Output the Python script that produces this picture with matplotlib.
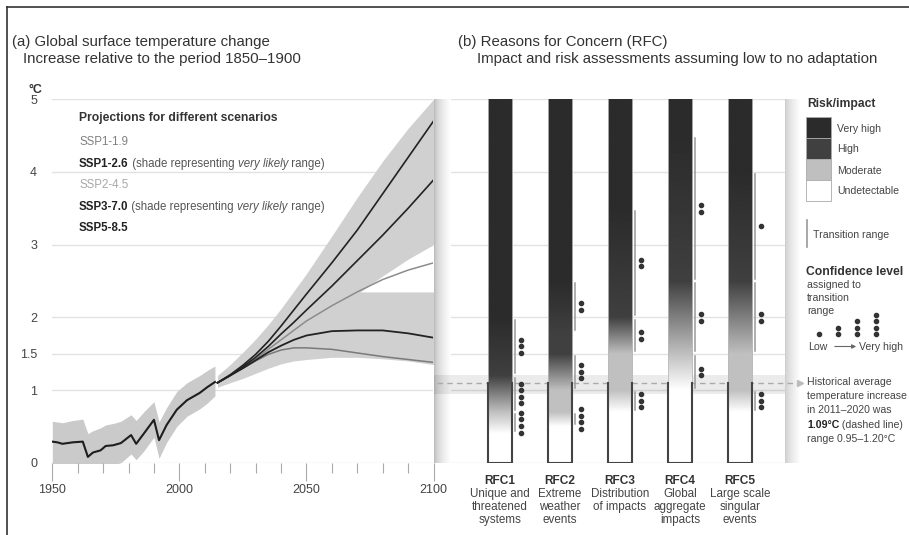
import numpy as np
import matplotlib
matplotlib.use("Agg")
import matplotlib.pyplot as plt
from matplotlib.patches import Rectangle
from matplotlib.transforms import blended_transform_factory

plt.rcParams['font.family'] = ['Liberation Sans Narrow', 'Liberation Sans', 'DejaVu Sans']

# ---- (a) observed warming, 1950-2014 (degC above 1850-1900)
hist_years = [1950, 1952, 1954, 1958, 1962, 1964, 1966, 1969, 1971, 1974, 1977,
              1981, 1983, 1986, 1990, 1992, 1995, 1999, 2003, 2008, 2011, 2014]
hist_temp = [0.29, 0.28, 0.26, 0.28, 0.29, 0.08, 0.14, 0.17, 0.23, 0.24, 0.27,
             0.38, 0.26, 0.40, 0.59, 0.31, 0.52, 0.73, 0.86, 0.96, 1.04, 1.11]
hist_high = [0.57, 0.56, 0.55, 0.58, 0.60, 0.40, 0.44, 0.48, 0.52, 0.54, 0.57,
             0.66, 0.58, 0.70, 0.84, 0.56, 0.76, 0.98, 1.10, 1.20, 1.27, 1.33]
hist_low = [-0.05, -0.05, -0.05, -0.05, -0.05, -0.1, -0.1, -0.08, -0.05, -0.03, 0.0,
            0.12, 0.04, 0.16, 0.35, 0.06, 0.28, 0.50, 0.64, 0.74, 0.82, 0.92]

# ---- (a) scenario projections
proj_years = [2015, 2020, 2025, 2030, 2035, 2040, 2045, 2050, 2060, 2070, 2080, 2090, 2100]
ssp119 = [1.10, 1.20, 1.30, 1.40, 1.49, 1.55, 1.58, 1.58, 1.56, 1.51, 1.46, 1.42, 1.38]
ssp126 = [1.10, 1.20, 1.30, 1.41, 1.52, 1.61, 1.69, 1.75, 1.81, 1.82, 1.82, 1.78, 1.72]
ssp245 = [1.10, 1.20, 1.31, 1.43, 1.56, 1.69, 1.82, 1.95, 2.16, 2.35, 2.52, 2.65, 2.75]
ssp370 = [1.10, 1.20, 1.32, 1.45, 1.60, 1.77, 1.93, 2.10, 2.43, 2.78, 3.13, 3.50, 3.89]
ssp585 = [1.10, 1.21, 1.34, 1.49, 1.67, 1.88, 2.10, 2.32, 2.75, 3.20, 3.70, 4.20, 4.70]
ssp126_low = [1.04, 1.10, 1.16, 1.23, 1.30, 1.36, 1.40, 1.42, 1.45, 1.45, 1.43, 1.40, 1.35]
ssp126_high = [1.18, 1.33, 1.50, 1.68, 1.87, 2.05, 2.20, 2.30, 2.35, 2.35, 2.35, 2.35, 2.35]
ssp370_low = [1.04, 1.11, 1.19, 1.28, 1.38, 1.50, 1.63, 1.77, 2.05, 2.32, 2.57, 2.80, 3.00]
ssp370_high = [1.20, 1.35, 1.52, 1.70, 1.90, 2.12, 2.36, 2.60, 3.12, 3.65, 4.15, 4.60, 5.00]

y_ticks = [0, 1, 1.5, 2, 3, 4, 5]
y_labels = ['0', '1', '1.5', '2', '3', '4', '5']
x_labels = [1950, 2000, 2050, 2100]

# ---- (b) reasons for concern: transitions (from degC, to degC, confidence dots)
# order: undetectable->moderate, moderate->high, high->very high
rfc_names = ['RFC1', 'RFC2', 'RFC3', 'RFC4', 'RFC5']
rfc_desc = [['Unique and', 'threatened', 'systems'],
            ['Extreme', 'weather', 'events'],
            ['Distribution', 'of impacts'],
            ['Global', 'aggregate', 'impacts'],
            ['Large scale', 'singular', 'events']]
rfc1_trans = [(0.4, 0.7, 4), (0.7, 1.2, 4), (1.2, 2.0, 3)]
rfc2_trans = [(0.5, 0.7, 4), (1.0, 1.5, 3), (1.8, 2.5, 2)]
rfc3_trans = [(0.7, 1.0, 3), (1.5, 2.0, 2), (2.0, 3.5, 2)]
rfc4_trans = [(1.0, 1.5, 2), (1.5, 2.5, 2), (2.5, 4.5, 2)]
rfc5_trans = [(0.7, 1.0, 3), (1.5, 2.5, 2), (2.5, 4.0, 1)]
rfc_trans = [rfc1_trans, rfc2_trans, rfc3_trans, rfc4_trans, rfc5_trans]

risk_labels = ['Undetectable', 'Moderate', 'High', 'Very high']
risk_grey = [1.0, 0.75, 0.25, 0.17]

hist_mean = 1.09
hist_range = (0.95, 1.20)

W, H = 909, 535
fig = plt.figure(figsize=(W / 100, H / 100), dpi=100)


def px_box(x0, y0, x1, y1):
    return [x0 / W, 1 - y1 / H, (x1 - x0) / W, (y1 - y0) / H]


Y0, Y5 = 462.7, 99.3
ax1 = fig.add_axes(px_box(52.3, Y5, 433.5, Y0))
ax2 = fig.add_axes(px_box(433.5, Y5, 800, Y0))
lg = fig.add_axes([0, 0, 1, 1])
lg.set_xlim(0, W)
lg.set_ylim(H, 0)
lg.axis('off')

GRID = '#e2e2e2'
BAND = '#d0d0d0'
TXT = '#333333'
SMALL = 7.6

# ---------------- panel (a)
for s in ax1.spines.values():
    s.set_visible(False)
for lvl in y_ticks:
    ax1.axhline(lvl, color=GRID, lw=1, zorder=0)

ax1.fill_between(hist_years, hist_low, hist_high, color='#cacaca', lw=0, zorder=1)
ax1.plot(hist_years, hist_temp, color='#1e1e1e', lw=1.5, zorder=3)

ax1.fill_between(proj_years, ssp370_low, ssp370_high, color=BAND, lw=0, zorder=1)
ax1.fill_between(proj_years, ssp126_low, ssp126_high, color=BAND, lw=0, zorder=1)
ax1.plot(proj_years, ssp119, color='#7a7a7a', lw=1.1, zorder=3)
ax1.plot(proj_years, ssp245, color='#8c8c8c', lw=1.1, zorder=3)
ax1.plot(proj_years, ssp126, color='#222222', lw=1.3, zorder=3)
ax1.plot(proj_years, ssp370, color='#222222', lw=1.2, zorder=3)
ax1.plot(proj_years, ssp585, color='#222222', lw=1.2, zorder=3)

ax1.set_xlim(1950, 2100)
ax1.set_ylim(0, 5)
ax1.set_yticks(y_ticks)
ax1.set_yticklabels(y_labels)
ax1.tick_params(axis='y', length=0, pad=11, labelsize=9, labelcolor='#444')
ax1.set_xticks(x_labels)
ax1.set_xticks(range(1950, 2101, 10), minor=True)
ax1.tick_params(axis='x', which='major', length=13, width=0.8, color='#aaaaaa',
                labelsize=9, labelcolor='#444', pad=2)
ax1.tick_params(axis='x', which='minor', length=7, width=0.8, color='#aaaaaa')

# ---------------- panel (b)
ax2.axis('off')
XL, XR, XS = -0.108, 6.0, 5.75
ax2.hlines(y_ticks, XL, XS, color=GRID, lw=1, zorder=0)

ramp = np.linspace(0, 1, 80)
ax2.imshow((0.70 + 0.30 * ramp ** 0.5)[None, :], cmap='gray', vmin=0, vmax=1,
           extent=(XL, 0.17, 0, 5), aspect='auto', zorder=1)
ax2.imshow((0.80 + 0.20 * ramp ** 0.7)[None, :], cmap='gray', vmin=0, vmax=1,
           extent=(XS, XR, 0, 5), aspect='auto', zorder=1)

ax2.fill_between([XL, XS], hist_range[0], hist_range[1], color='k', alpha=0.08, lw=0, zorder=2)
ax2.plot([XL + 0.05, 5.95], [hist_mean, hist_mean], color='#aaaaaa', lw=1,
         ls=(0, (4, 3)), zorder=2)

hw = 0.205
tt = np.linspace(0, 5, 500)
lab_tf = blended_transform_factory(ax2.transData, lg.transData)
for i, (name, trans, desc) in enumerate(zip(rfc_names, rfc_trans, rfc_desc)):
    c = i + 1
    xp = [v for tr in trans for v in tr[:2]]
    fp = [risk_grey[0], risk_grey[1], risk_grey[1], risk_grey[2], risk_grey[2], risk_grey[3]]
    col = np.interp(tt, xp, fp)
    ax2.imshow(col[:, None], cmap='gray', vmin=0, vmax=1, origin='lower',
               extent=(c - hw, c + hw, 0, 5), aspect='auto', interpolation='bilinear', zorder=3)
    ax2.plot([c - hw, c - hw], [hist_mean, 5], color='#bbbbbb', lw=0.6, zorder=4)
    ax2.plot([c + hw, c + hw], [hist_mean, 5], color='#bbbbbb', lw=0.6, zorder=4)
    ax2.plot([c - hw, c - hw, c + hw, c + hw], [hist_mean, 0, 0, hist_mean],
             color='#444444', lw=1.5, zorder=4, solid_joinstyle='miter')
    for lo, hi, nd in trans:
        ax2.plot([c + hw + 0.045] * 2, [lo + 0.03, hi - 0.03], color='#999999', lw=1.1, zorder=4)
        ys = (lo + hi) / 2 + (np.arange(nd) - (nd - 1) / 2) * 0.09
        ax2.plot([c + hw + 0.14] * nd, ys, 'o', ms=3, color='#333333', zorder=4)
    ax2.text(c, 484, name, transform=lab_tf, ha='center', va='baseline',
             weight='bold', fontsize=8.6, color='#333')
    for k, line in enumerate(desc):
        ax2.text(c, 497 + 13 * k, line, transform=lab_tf, ha='center', va='baseline',
                 fontsize=8.4, color='#444')

ax2.set_xlim(XL, XR)
ax2.set_ylim(0, 5)

# ---------------- titles and legends (pixel coordinates)
lg.text(12, 46, '(a) Global surface temperature change', fontsize=10.8, color=TXT)
lg.text(23, 63, 'Increase relative to the period 1850\u20131900', fontsize=10.8, color=TXT)
lg.text(458, 46, '(b) Reasons for Concern (RFC)', fontsize=10.8, color=TXT)
lg.text(477, 63, 'Impact and risk assessments assuming low to no adaptation', fontsize=10.8, color=TXT)
lg.text(42, 93, '\u00b0C', ha='right', fontsize=9, weight='bold', color=TXT)

lg.text(79, 121, 'Projections for different scenarios', fontsize=8.7, weight='bold', color=TXT)
lg.text(79, 145, 'SSP1-1.9', fontsize=8.3, color='#808080')
lg.text(79, 188.3, 'SSP2-4.5', fontsize=8.3, color='#a8a8a8')
lg.text(79, 230.7, 'SSP5-8.5', fontsize=8.3, weight='bold', color='#222')
for yb, lab in [(166.7, 'SSP1-2.6'), (210, 'SSP3-7.0')]:
    t = lg.text(79, yb, lab, fontsize=8.3, weight='bold', color='#222')
    for part, sty in [(' (shade representing ', 'normal'), ('very likely', 'italic'), (' range)', 'normal')]:
        t = lg.annotate(part, xy=(1, 0), xycoords=t, va='bottom', fontsize=8.3,
                        style=sty, color='#555')

lg.text(807, 107.5, 'Risk/impact', fontsize=8.7, weight='bold', color=TXT)
for k, (lab, g) in enumerate(zip(risk_labels[::-1], risk_grey[::-1])):
    y0 = 117 + 21 * k
    lg.add_patch(Rectangle((806, y0), 25, 21, fc=str(g), ec='#aaaaaa', lw=0.6))
    lg.text(837, y0 + 14.5, lab, fontsize=SMALL, color='#444')
lg.plot([807, 807], [220, 247], color='#999999', lw=1.2)
lg.text(813, 238.5, 'Transition range', fontsize=SMALL, color='#444')

lg.text(806, 275, 'Confidence level', fontsize=8.7, weight='bold', color=TXT)
for k, line in enumerate(['assigned to', 'transition', 'range']):
    lg.text(807, 287.5 + 13.5 * k, line, fontsize=SMALL, color='#444')
for k, n in enumerate([1, 2, 3, 4]):
    lg.plot([819 + 19 * k] * n, 334 - 6.5 * np.arange(n), 'o', ms=3, color='#333333')
lg.text(808, 350, 'Low', fontsize=SMALL, color='#444')
lg.annotate('', xy=(859, 346.5), xytext=(832, 346.5),
            arrowprops=dict(arrowstyle='-|>', color='#666666', lw=0.8, mutation_scale=6))
lg.text(859, 350, 'Very high', fontsize=SMALL, color='#444')

lg.plot([799.5], [Y0 - hist_mean * (Y0 - Y5) / 5], '>', ms=5, color='#bbbbbb')
hist_lines = ['Historical average', 'temperature increase', 'in 2011\u20132020 was']
for k, line in enumerate(hist_lines):
    lg.text(807, 385 + 14.2 * k, line, fontsize=SMALL, color='#444')
t = lg.text(807, 427.7, '1.09\u00b0C', fontsize=SMALL, weight='bold', color='#222')
lg.annotate(' (dashed line)', xy=(1, 0), xycoords=t, va='bottom', fontsize=SMALL, color='#444')
lg.text(807, 442, 'range 0.95\u20131.20\u00b0C', fontsize=SMALL, color='#444')

# outer frame (left and top edges)
lg.plot([6.5, 6.5], [6.5, H], color='#333333', lw=1.2)
lg.plot([6.5, W], [6.5, 6.5], color='#333333', lw=1.2)

fig.savefig('out.png', dpi=100)
